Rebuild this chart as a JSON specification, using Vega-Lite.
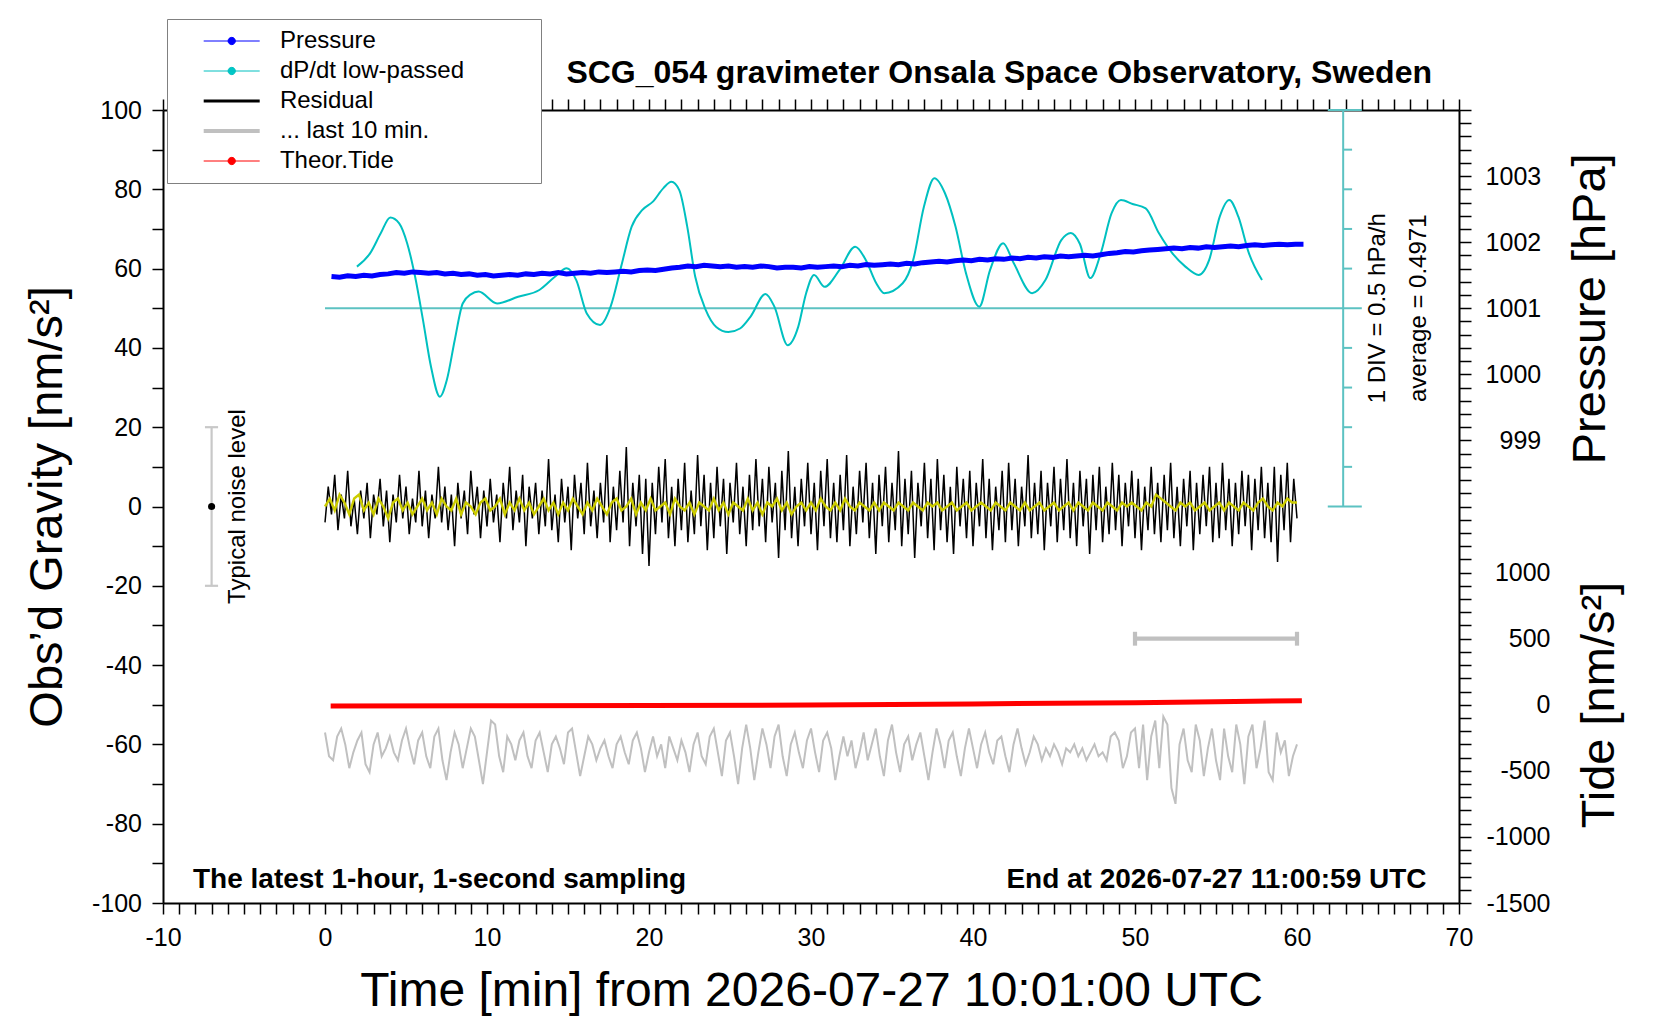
{
  "$schema": "https://vega.github.io/schema/vega-lite/v6.json",
  "width": 1296,
  "height": 793,
  "autosize": {"type": "none"},
  "padding": {"left": 163, "top": 110, "right": 201, "bottom": 117},
  "title": {
    "text": "SCG_054 gravimeter Onsala Space Observatory, Sweden",
    "anchor": "end",
    "frame": "group",
    "dx": -27,
    "offset": -96.7,
    "baseline": "alphabetic",
    "font": "Liberation Sans",
    "fontSize": 32,
    "fontWeight": "bold",
    "color": "#000000"
  },
  "datasets": {
    "residual": [
      {"t":0.0,"g":-4},{"t":0.2,"g":5},{"t":0.4,"g":-2},{"t":0.6,"g":8},{"t":0.8,"g":-6},{"t":1.0,"g":3},{"t":1.2,"g":-3},{"t":1.4,"g":9},{"t":1.6,"g":-5},{"t":1.8,"g":2},
      {"t":2.0,"g":-7},{"t":2.2,"g":4},{"t":2.4,"g":-3},{"t":2.6,"g":6},{"t":2.8,"g":-8},{"t":3.0,"g":3},{"t":3.2,"g":-2},{"t":3.4,"g":7},{"t":3.6,"g":-5},{"t":3.8,"g":4},
      {"t":4.0,"g":-9},{"t":4.2,"g":3},{"t":4.4,"g":-4},{"t":4.6,"g":8},{"t":4.8,"g":-3},{"t":5.0,"g":5},{"t":5.2,"g":-7},{"t":5.4,"g":2},{"t":5.6,"g":-4},{"t":5.8,"g":9},
      {"t":6.0,"g":-5},{"t":6.2,"g":4},{"t":6.4,"g":-8},{"t":6.6,"g":3},{"t":6.8,"g":-3},{"t":7.0,"g":10},{"t":7.2,"g":-4},{"t":7.4,"g":5},{"t":7.6,"g":-6},{"t":7.8,"g":3},
      {"t":8.0,"g":-10},{"t":8.2,"g":6},{"t":8.4,"g":-3},{"t":8.6,"g":4},{"t":8.8,"g":-7},{"t":9.0,"g":9},{"t":9.2,"g":-2},{"t":9.4,"g":5},{"t":9.6,"g":-8},{"t":9.8,"g":4},
      {"t":10.0,"g":-5},{"t":10.2,"g":7},{"t":10.4,"g":-4},{"t":10.6,"g":3},{"t":10.8,"g":-9},{"t":11.0,"g":6},{"t":11.2,"g":-3},{"t":11.4,"g":10},{"t":11.6,"g":-6},{"t":11.8,"g":4},
      {"t":12.0,"g":-4},{"t":12.2,"g":8},{"t":12.4,"g":-10},{"t":12.6,"g":5},{"t":12.8,"g":-3},{"t":13.0,"g":6},{"t":13.2,"g":-7},{"t":13.4,"g":4},{"t":13.6,"g":-5},{"t":13.8,"g":12},
      {"t":14.0,"g":-6},{"t":14.2,"g":3},{"t":14.4,"g":-9},{"t":14.6,"g":7},{"t":14.8,"g":-4},{"t":15.0,"g":5},{"t":15.2,"g":-11},{"t":15.4,"g":8},{"t":15.6,"g":-3},{"t":15.8,"g":6},
      {"t":16.0,"g":-7},{"t":16.2,"g":11},{"t":16.4,"g":-5},{"t":16.6,"g":4},{"t":16.8,"g":-8},{"t":17.0,"g":6},{"t":17.2,"g":-4},{"t":17.4,"g":13},{"t":17.6,"g":-9},{"t":17.8,"g":5},
      {"t":18.0,"g":-6},{"t":18.2,"g":9},{"t":18.4,"g":-4},{"t":18.6,"g":15},{"t":18.8,"g":-10},{"t":19.0,"g":6},{"t":19.2,"g":-5},{"t":19.4,"g":8},{"t":19.6,"g":-12},{"t":19.8,"g":7},
      {"t":20.0,"g":-15},{"t":20.2,"g":6},{"t":20.4,"g":-7},{"t":20.6,"g":10},{"t":20.8,"g":-4},{"t":21.0,"g":12},{"t":21.2,"g":-8},{"t":21.4,"g":5},{"t":21.6,"g":-10},{"t":21.8,"g":7},
      {"t":22.0,"g":-6},{"t":22.2,"g":11},{"t":22.4,"g":-9},{"t":22.6,"g":4},{"t":22.8,"g":-7},{"t":23.0,"g":13},{"t":23.2,"g":-5},{"t":23.4,"g":8},{"t":23.6,"g":-11},{"t":23.8,"g":6},
      {"t":24.0,"g":-8},{"t":24.2,"g":10},{"t":24.4,"g":-5},{"t":24.6,"g":7},{"t":24.8,"g":-12},{"t":25.0,"g":6},{"t":25.2,"g":-4},{"t":25.4,"g":11},{"t":25.6,"g":-7},{"t":25.8,"g":5},
      {"t":26.0,"g":-10},{"t":26.2,"g":8},{"t":26.4,"g":-6},{"t":26.6,"g":12},{"t":26.8,"g":-5},{"t":27.0,"g":7},{"t":27.2,"g":-9},{"t":27.4,"g":10},{"t":27.6,"g":-4},{"t":27.8,"g":6},
      {"t":28.0,"g":-13},{"t":28.2,"g":9},{"t":28.4,"g":-6},{"t":28.6,"g":14},{"t":28.8,"g":-8},{"t":29.0,"g":5},{"t":29.2,"g":-10},{"t":29.4,"g":7},{"t":29.6,"g":-5},{"t":29.8,"g":11},
      {"t":30.0,"g":-7},{"t":30.2,"g":6},{"t":30.4,"g":-11},{"t":30.6,"g":9},{"t":30.8,"g":-5},{"t":31.0,"g":12},{"t":31.2,"g":-8},{"t":31.4,"g":6},{"t":31.6,"g":-9},{"t":31.8,"g":8},
      {"t":32.0,"g":-6},{"t":32.2,"g":13},{"t":32.4,"g":-10},{"t":32.6,"g":5},{"t":32.8,"g":-7},{"t":33.0,"g":9},{"t":33.2,"g":-4},{"t":33.4,"g":11},{"t":33.6,"g":-8},{"t":33.8,"g":6},
      {"t":34.0,"g":-12},{"t":34.2,"g":8},{"t":34.4,"g":-5},{"t":34.6,"g":10},{"t":34.8,"g":-9},{"t":35.0,"g":6},{"t":35.2,"g":-6},{"t":35.4,"g":14},{"t":35.6,"g":-10},{"t":35.8,"g":7},
      {"t":36.0,"g":-7},{"t":36.2,"g":9},{"t":36.4,"g":-13},{"t":36.6,"g":6},{"t":36.8,"g":-5},{"t":37.0,"g":11},{"t":37.2,"g":-8},{"t":37.4,"g":7},{"t":37.6,"g":-11},{"t":37.8,"g":12},
      {"t":38.0,"g":-6},{"t":38.2,"g":8},{"t":38.4,"g":-9},{"t":38.6,"g":5},{"t":38.8,"g":-12},{"t":39.0,"g":10},{"t":39.2,"g":-5},{"t":39.4,"g":7},{"t":39.6,"g":-8},{"t":39.8,"g":9},
      {"t":40.0,"g":-10},{"t":40.2,"g":6},{"t":40.4,"g":-5},{"t":40.6,"g":12},{"t":40.8,"g":-8},{"t":41.0,"g":7},{"t":41.2,"g":-11},{"t":41.4,"g":5},{"t":41.6,"g":-6},{"t":41.8,"g":9},
      {"t":42.0,"g":-9},{"t":42.2,"g":11},{"t":42.4,"g":-6},{"t":42.6,"g":7},{"t":42.8,"g":-10},{"t":43.0,"g":5},{"t":43.2,"g":-5},{"t":43.4,"g":13},{"t":43.6,"g":-8},{"t":43.8,"g":6},
      {"t":44.0,"g":-7},{"t":44.2,"g":9},{"t":44.4,"g":-11},{"t":44.6,"g":6},{"t":44.8,"g":-5},{"t":45.0,"g":10},{"t":45.2,"g":-9},{"t":45.4,"g":7},{"t":45.6,"g":-6},{"t":45.8,"g":12},
      {"t":46.0,"g":-8},{"t":46.2,"g":6},{"t":46.4,"g":-10},{"t":46.6,"g":9},{"t":46.8,"g":-5},{"t":47.0,"g":7},{"t":47.2,"g":-12},{"t":47.4,"g":8},{"t":47.6,"g":-6},{"t":47.8,"g":10},
      {"t":48.0,"g":-9},{"t":48.2,"g":5},{"t":48.4,"g":-7},{"t":48.6,"g":11},{"t":48.8,"g":-6},{"t":49.0,"g":8},{"t":49.2,"g":-10},{"t":49.4,"g":6},{"t":49.6,"g":-5},{"t":49.8,"g":9},
      {"t":50.0,"g":-8},{"t":50.2,"g":7},{"t":50.4,"g":-11},{"t":50.6,"g":5},{"t":50.8,"g":-6},{"t":51.0,"g":10},{"t":51.2,"g":-7},{"t":51.4,"g":6},{"t":51.6,"g":-9},{"t":51.8,"g":8},
      {"t":52.0,"g":-6},{"t":52.2,"g":11},{"t":52.4,"g":-8},{"t":52.6,"g":5},{"t":52.8,"g":-10},{"t":53.0,"g":7},{"t":53.2,"g":-5},{"t":53.4,"g":9},{"t":53.6,"g":-11},{"t":53.8,"g":6},
      {"t":54.0,"g":-7},{"t":54.2,"g":8},{"t":54.4,"g":-5},{"t":54.6,"g":10},{"t":54.8,"g":-9},{"t":55.0,"g":6},{"t":55.2,"g":-8},{"t":55.4,"g":11},{"t":55.6,"g":-6},{"t":55.8,"g":7},
      {"t":56.0,"g":-10},{"t":56.2,"g":6},{"t":56.4,"g":-7},{"t":56.6,"g":9},{"t":56.8,"g":-5},{"t":57.0,"g":8},{"t":57.2,"g":-11},{"t":57.4,"g":7},{"t":57.6,"g":-6},{"t":57.8,"g":10},
      {"t":58.0,"g":-8},{"t":58.2,"g":6},{"t":58.4,"g":-9},{"t":58.6,"g":10},{"t":58.8,"g":-14},{"t":59.0,"g":8},{"t":59.2,"g":-6},{"t":59.4,"g":11},{"t":59.6,"g":-9},{"t":59.8,"g":7},
      {"t":60.0,"g":-3}
    ],
    "yellow": [
      {"t":0,"g":0},{"t":0.3,"g":2},{"t":0.6,"g":-1},{"t":0.9,"g":3},{"t":1.2,"g":1},{"t":1.5,"g":-2},{"t":1.8,"g":2},{"t":2.1,"g":3},{"t":2.4,"g":-1},{"t":2.7,"g":1},
      {"t":3,"g":-2},{"t":3.3,"g":2},{"t":3.6,"g":0},{"t":3.9,"g":-3},{"t":4.2,"g":1},{"t":4.5,"g":2},{"t":4.8,"g":-1},{"t":5.1,"g":1},{"t":5.4,"g":-2},{"t":5.7,"g":0},
      {"t":6,"g":2},{"t":6.3,"g":-1},{"t":6.6,"g":1},{"t":6.9,"g":-2},{"t":7.2,"g":2},{"t":7.5,"g":0},{"t":7.8,"g":-1},{"t":8.1,"g":2},{"t":8.4,"g":-2},{"t":8.7,"g":1},
      {"t":9,"g":0},{"t":9.3,"g":-2},{"t":9.6,"g":1},{"t":9.9,"g":2},{"t":10.2,"g":-1},{"t":10.5,"g":0},{"t":10.8,"g":2},{"t":11.1,"g":-2},{"t":11.4,"g":1},{"t":11.7,"g":-1},
      {"t":12,"g":2},{"t":12.3,"g":-1},{"t":12.6,"g":1},{"t":12.9,"g":-2},{"t":13.2,"g":0},{"t":13.5,"g":2},{"t":13.8,"g":-1},{"t":14.1,"g":1},{"t":14.4,"g":-2},{"t":14.7,"g":1},
      {"t":15,"g":-1},{"t":15.3,"g":2},{"t":15.6,"g":0},{"t":15.9,"g":-2},{"t":16.2,"g":1},{"t":16.5,"g":-1},{"t":16.8,"g":2},{"t":17.1,"g":0},{"t":17.4,"g":-2},{"t":17.7,"g":1},
      {"t":18,"g":2},{"t":18.3,"g":-1},{"t":18.6,"g":0},{"t":18.9,"g":2},{"t":19.2,"g":-2},{"t":19.5,"g":1},{"t":19.8,"g":-1},{"t":20.1,"g":2},{"t":20.4,"g":-1},{"t":20.7,"g":0},
      {"t":21,"g":1},{"t":21.3,"g":-2},{"t":21.6,"g":2},{"t":21.9,"g":0},{"t":22.2,"g":-1},{"t":22.5,"g":1},{"t":22.8,"g":-2},{"t":23.1,"g":1},{"t":23.4,"g":0},{"t":23.7,"g":-1},
      {"t":24,"g":2},{"t":24.3,"g":-1},{"t":24.6,"g":1},{"t":24.9,"g":-2},{"t":25.2,"g":1},{"t":25.5,"g":0},{"t":25.8,"g":-1},{"t":26.1,"g":2},{"t":26.4,"g":-1},{"t":26.7,"g":1},
      {"t":27,"g":-2},{"t":27.3,"g":1},{"t":27.6,"g":0},{"t":27.9,"g":2},{"t":28.2,"g":-1},{"t":28.5,"g":1},{"t":28.8,"g":-2},{"t":29.1,"g":0},{"t":29.4,"g":1},{"t":29.7,"g":-1},
      {"t":30,"g":1},{"t":30.3,"g":-1},{"t":30.6,"g":2},{"t":30.9,"g":0},{"t":31.2,"g":-1},{"t":31.5,"g":1},{"t":31.8,"g":-1},{"t":32.1,"g":2},{"t":32.4,"g":0},{"t":32.7,"g":-1},
      {"t":33,"g":1},{"t":33.3,"g":0},{"t":33.6,"g":-1},{"t":33.9,"g":1},{"t":34.2,"g":-1},{"t":34.5,"g":1},{"t":34.8,"g":0},{"t":35.1,"g":-1},{"t":35.4,"g":1},{"t":35.7,"g":0},
      {"t":36,"g":-1},{"t":36.3,"g":1},{"t":36.6,"g":0},{"t":36.9,"g":-1},{"t":37.2,"g":1},{"t":37.5,"g":0},{"t":37.8,"g":1},{"t":38.1,"g":-1},{"t":38.4,"g":0},{"t":38.7,"g":1},
      {"t":39,"g":-1},{"t":39.3,"g":0},{"t":39.6,"g":1},{"t":39.9,"g":-1},{"t":40.2,"g":0},{"t":40.5,"g":1},{"t":40.8,"g":0},{"t":41.1,"g":-1},{"t":41.4,"g":1},{"t":41.7,"g":0},
      {"t":42,"g":-1},{"t":42.3,"g":1},{"t":42.6,"g":0},{"t":42.9,"g":-1},{"t":43.2,"g":1},{"t":43.5,"g":-1},{"t":43.8,"g":0},{"t":44.1,"g":1},{"t":44.4,"g":-1},{"t":44.7,"g":0},
      {"t":45,"g":1},{"t":45.3,"g":-1},{"t":45.6,"g":0},{"t":45.9,"g":1},{"t":46.2,"g":-1},{"t":46.5,"g":1},{"t":46.8,"g":0},{"t":47.1,"g":-1},{"t":47.4,"g":1},{"t":47.7,"g":0},
      {"t":48,"g":-1},{"t":48.3,"g":1},{"t":48.6,"g":0},{"t":48.9,"g":-1},{"t":49.2,"g":1},{"t":49.5,"g":0},{"t":49.8,"g":1},{"t":50.1,"g":0},{"t":50.4,"g":-1},{"t":50.7,"g":1},
      {"t":51,"g":0},{"t":51.3,"g":3},{"t":51.6,"g":2},{"t":51.9,"g":1},{"t":52.2,"g":0},{"t":52.5,"g":-1},{"t":52.8,"g":1},{"t":53.1,"g":0},{"t":53.4,"g":1},{"t":53.7,"g":-1},
      {"t":54,"g":0},{"t":54.3,"g":1},{"t":54.6,"g":-1},{"t":54.9,"g":0},{"t":55.2,"g":1},{"t":55.5,"g":-1},{"t":55.8,"g":1},{"t":56.1,"g":0},{"t":56.4,"g":-1},{"t":56.7,"g":1},
      {"t":57,"g":0},{"t":57.3,"g":-1},{"t":57.6,"g":1},{"t":57.9,"g":2},{"t":58.2,"g":0},{"t":58.5,"g":-1},{"t":58.8,"g":1},{"t":59.1,"g":0},{"t":59.4,"g":2},{"t":59.7,"g":1},
      {"t":60,"g":1}
    ],
    "grey": [
      {"t":0,"g":-57},{"t":0.25,"g":-63},{"t":0.5,"g":-64},{"t":0.75,"g":-58},{"t":1,"g":-56},{"t":1.25,"g":-60},{"t":1.5,"g":-66},{"t":1.75,"g":-62},
      {"t":2,"g":-59},{"t":2.25,"g":-57},{"t":2.5,"g":-65},{"t":2.75,"g":-67},{"t":3,"g":-60},{"t":3.25,"g":-57},{"t":3.5,"g":-63},{"t":3.75,"g":-61},
      {"t":4,"g":-58},{"t":4.25,"g":-62},{"t":4.5,"g":-64},{"t":4.75,"g":-59},{"t":5,"g":-56},{"t":5.25,"g":-61},{"t":5.5,"g":-65},{"t":5.75,"g":-59},
      {"t":6,"g":-57},{"t":6.25,"g":-63},{"t":6.5,"g":-66},{"t":6.75,"g":-58},{"t":7,"g":-56},{"t":7.25,"g":-64},{"t":7.5,"g":-69},{"t":7.75,"g":-62},
      {"t":8,"g":-57},{"t":8.25,"g":-60},{"t":8.5,"g":-66},{"t":8.75,"g":-61},{"t":9,"g":-56},{"t":9.25,"g":-58},{"t":9.5,"g":-64},{"t":9.75,"g":-70},
      {"t":10,"g":-62},{"t":10.25,"g":-54},{"t":10.5,"g":-55},{"t":10.75,"g":-63},{"t":11,"g":-67},{"t":11.25,"g":-58},{"t":11.5,"g":-60},{"t":11.75,"g":-64},
      {"t":12,"g":-59},{"t":12.25,"g":-57},{"t":12.5,"g":-63},{"t":12.75,"g":-66},{"t":13,"g":-59},{"t":13.25,"g":-57},{"t":13.5,"g":-62},{"t":13.75,"g":-67},
      {"t":14,"g":-60},{"t":14.25,"g":-58},{"t":14.5,"g":-61},{"t":14.75,"g":-65},{"t":15,"g":-57},{"t":15.25,"g":-56},{"t":15.5,"g":-62},{"t":15.75,"g":-68},
      {"t":16,"g":-63},{"t":16.25,"g":-58},{"t":16.5,"g":-60},{"t":16.75,"g":-64},{"t":17,"g":-61},{"t":17.25,"g":-59},{"t":17.5,"g":-63},{"t":17.75,"g":-66},
      {"t":18,"g":-60},{"t":18.25,"g":-58},{"t":18.5,"g":-62},{"t":18.75,"g":-65},{"t":19,"g":-59},{"t":19.25,"g":-57},{"t":19.5,"g":-61},{"t":19.75,"g":-67},
      {"t":20,"g":-62},{"t":20.25,"g":-58},{"t":20.5,"g":-63},{"t":20.75,"g":-60},{"t":21,"g":-66},{"t":21.25,"g":-58},{"t":21.5,"g":-61},{"t":21.75,"g":-64},
      {"t":22,"g":-59},{"t":22.25,"g":-62},{"t":22.5,"g":-67},{"t":22.75,"g":-60},{"t":23,"g":-57},{"t":23.25,"g":-63},{"t":23.5,"g":-65},{"t":23.75,"g":-58},
      {"t":24,"g":-56},{"t":24.25,"g":-62},{"t":24.5,"g":-68},{"t":24.75,"g":-59},{"t":25,"g":-57},{"t":25.25,"g":-63},{"t":25.5,"g":-70},{"t":25.75,"g":-61},
      {"t":26,"g":-55},{"t":26.25,"g":-61},{"t":26.5,"g":-69},{"t":26.75,"g":-62},{"t":27,"g":-56},{"t":27.25,"g":-60},{"t":27.5,"g":-66},{"t":27.75,"g":-58},
      {"t":28,"g":-55},{"t":28.25,"g":-63},{"t":28.5,"g":-68},{"t":28.75,"g":-60},{"t":29,"g":-57},{"t":29.25,"g":-62},{"t":29.5,"g":-66},{"t":29.75,"g":-59},
      {"t":30,"g":-56},{"t":30.25,"g":-62},{"t":30.5,"g":-67},{"t":30.75,"g":-59},{"t":31,"g":-57},{"t":31.25,"g":-61},{"t":31.5,"g":-69},{"t":31.75,"g":-63},
      {"t":32,"g":-58},{"t":32.25,"g":-63},{"t":32.5,"g":-59},{"t":32.75,"g":-66},{"t":33,"g":-62},{"t":33.25,"g":-57},{"t":33.5,"g":-64},{"t":33.75,"g":-60},
      {"t":34,"g":-56},{"t":34.25,"g":-63},{"t":34.5,"g":-68},{"t":34.75,"g":-59},{"t":35,"g":-55},{"t":35.25,"g":-62},{"t":35.5,"g":-67},{"t":35.75,"g":-60},
      {"t":36,"g":-58},{"t":36.25,"g":-64},{"t":36.5,"g":-60},{"t":36.75,"g":-57},{"t":37,"g":-63},{"t":37.25,"g":-69},{"t":37.5,"g":-62},{"t":37.75,"g":-56},
      {"t":38,"g":-60},{"t":38.25,"g":-66},{"t":38.5,"g":-59},{"t":38.75,"g":-57},{"t":39,"g":-63},{"t":39.25,"g":-68},{"t":39.5,"g":-61},{"t":39.75,"g":-56},
      {"t":40,"g":-61},{"t":40.25,"g":-66},{"t":40.5,"g":-60},{"t":40.75,"g":-57},{"t":41,"g":-62},{"t":41.25,"g":-65},{"t":41.5,"g":-59},{"t":41.75,"g":-58},
      {"t":42,"g":-63},{"t":42.25,"g":-67},{"t":42.5,"g":-60},{"t":42.75,"g":-56},{"t":43,"g":-61},{"t":43.25,"g":-65},{"t":43.5,"g":-62},{"t":43.75,"g":-58},
      {"t":44,"g":-60},{"t":44.25,"g":-64},{"t":44.5,"g":-61},{"t":44.75,"g":-63},{"t":45,"g":-60},{"t":45.25,"g":-62},{"t":45.5,"g":-65},{"t":45.75,"g":-61},
      {"t":46,"g":-62},{"t":46.25,"g":-60},{"t":46.5,"g":-63},{"t":46.75,"g":-61},{"t":47,"g":-64},{"t":47.25,"g":-62},{"t":47.5,"g":-60},{"t":47.75,"g":-63},
      {"t":48,"g":-62},{"t":48.25,"g":-64},{"t":48.5,"g":-58},{"t":48.75,"g":-57},{"t":49,"g":-59},{"t":49.25,"g":-66},{"t":49.5,"g":-63},{"t":49.75,"g":-57},
      {"t":50,"g":-56},{"t":50.25,"g":-66},{"t":50.5,"g":-55},{"t":50.75,"g":-69},{"t":51,"g":-58},{"t":51.25,"g":-54},{"t":51.5,"g":-66},{"t":51.75,"g":-53},
      {"t":52,"g":-55},{"t":52.25,"g":-71},{"t":52.5,"g":-75},{"t":52.75,"g":-60},{"t":53,"g":-56},{"t":53.25,"g":-64},{"t":53.5,"g":-67},{"t":53.75,"g":-55},
      {"t":54,"g":-59},{"t":54.25,"g":-68},{"t":54.5,"g":-61},{"t":54.75,"g":-56},{"t":55,"g":-64},{"t":55.25,"g":-69},{"t":55.5,"g":-56},{"t":55.75,"g":-63},
      {"t":56,"g":-67},{"t":56.25,"g":-55},{"t":56.5,"g":-60},{"t":56.75,"g":-70},{"t":57,"g":-58},{"t":57.25,"g":-55},{"t":57.5,"g":-66},{"t":57.75,"g":-61},
      {"t":58,"g":-54},{"t":58.25,"g":-67},{"t":58.5,"g":-69},{"t":58.75,"g":-57},{"t":59,"g":-62},{"t":59.25,"g":-59},{"t":59.5,"g":-68},{"t":59.75,"g":-63},
      {"t":60,"g":-60}
    ],
    "pressure": [
      {"t":0.4,"p":1001.48},{"t":0.9,"p":1001.47},{"t":1.4,"p":1001.49},{"t":1.9,"p":1001.48},{"t":2.4,"p":1001.50},{"t":2.9,"p":1001.49},{"t":3.4,"p":1001.51},{"t":3.9,"p":1001.52},{"t":4.4,"p":1001.54},{"t":4.9,"p":1001.53},
      {"t":5.4,"p":1001.55},{"t":5.9,"p":1001.54},{"t":6.4,"p":1001.53},{"t":6.9,"p":1001.54},{"t":7.4,"p":1001.52},{"t":7.9,"p":1001.53},{"t":8.4,"p":1001.51},{"t":8.9,"p":1001.52},{"t":9.4,"p":1001.50},{"t":9.9,"p":1001.51},
      {"t":10.4,"p":1001.49},{"t":10.9,"p":1001.50},{"t":11.4,"p":1001.51},{"t":11.9,"p":1001.50},{"t":12.4,"p":1001.52},{"t":12.9,"p":1001.51},{"t":13.4,"p":1001.53},{"t":13.9,"p":1001.52},{"t":14.4,"p":1001.54},{"t":14.9,"p":1001.52},
      {"t":15.4,"p":1001.53},{"t":15.9,"p":1001.54},{"t":16.4,"p":1001.53},{"t":16.9,"p":1001.55},{"t":17.4,"p":1001.54},{"t":17.9,"p":1001.55},{"t":18.4,"p":1001.56},{"t":18.9,"p":1001.55},{"t":19.4,"p":1001.57},{"t":19.9,"p":1001.58},
      {"t":20.4,"p":1001.57},{"t":20.9,"p":1001.59},{"t":21.4,"p":1001.61},{"t":21.9,"p":1001.62},{"t":22.4,"p":1001.64},{"t":22.9,"p":1001.63},{"t":23.4,"p":1001.65},{"t":23.9,"p":1001.64},{"t":24.4,"p":1001.63},{"t":24.9,"p":1001.64},
      {"t":25.4,"p":1001.62},{"t":25.9,"p":1001.63},{"t":26.4,"p":1001.62},{"t":26.9,"p":1001.64},{"t":27.4,"p":1001.63},{"t":27.9,"p":1001.61},{"t":28.4,"p":1001.62},{"t":28.9,"p":1001.62},{"t":29.4,"p":1001.61},{"t":29.9,"p":1001.63},
      {"t":30.4,"p":1001.62},{"t":30.9,"p":1001.63},{"t":31.4,"p":1001.64},{"t":31.9,"p":1001.63},{"t":32.4,"p":1001.65},{"t":32.9,"p":1001.64},{"t":33.4,"p":1001.66},{"t":33.9,"p":1001.65},{"t":34.4,"p":1001.66},{"t":34.9,"p":1001.67},
      {"t":35.4,"p":1001.66},{"t":35.9,"p":1001.68},{"t":36.4,"p":1001.67},{"t":36.9,"p":1001.69},{"t":37.4,"p":1001.70},{"t":37.9,"p":1001.71},{"t":38.4,"p":1001.70},{"t":38.9,"p":1001.72},{"t":39.4,"p":1001.73},{"t":39.9,"p":1001.72},
      {"t":40.4,"p":1001.74},{"t":40.9,"p":1001.73},{"t":41.4,"p":1001.75},{"t":41.9,"p":1001.74},{"t":42.4,"p":1001.76},{"t":42.9,"p":1001.75},{"t":43.4,"p":1001.77},{"t":43.9,"p":1001.76},{"t":44.4,"p":1001.78},{"t":44.9,"p":1001.77},
      {"t":45.4,"p":1001.79},{"t":45.9,"p":1001.78},{"t":46.4,"p":1001.79},{"t":46.9,"p":1001.80},{"t":47.4,"p":1001.79},{"t":47.9,"p":1001.81},{"t":48.4,"p":1001.83},{"t":48.9,"p":1001.84},{"t":49.4,"p":1001.86},{"t":49.9,"p":1001.85},
      {"t":50.4,"p":1001.87},{"t":50.9,"p":1001.88},{"t":51.4,"p":1001.89},{"t":51.9,"p":1001.90},{"t":52.4,"p":1001.91},{"t":52.9,"p":1001.90},{"t":53.4,"p":1001.92},{"t":53.9,"p":1001.91},{"t":54.4,"p":1001.93},{"t":54.9,"p":1001.92},
      {"t":55.4,"p":1001.93},{"t":55.9,"p":1001.94},{"t":56.4,"p":1001.93},{"t":56.9,"p":1001.95},{"t":57.4,"p":1001.96},{"t":57.9,"p":1001.95},{"t":58.4,"p":1001.96},{"t":58.9,"p":1001.97},{"t":59.4,"p":1001.96},{"t":59.9,"p":1001.97},
      {"t":60.4,"p":1001.97}
    ],
    "dpdt": [
      {"t":1.97,"v":1.022},{"t":2.79,"v":1.192},{"t":3.44,"v":1.442},{"t":4.03,"v":1.642},{"t":4.58,"v":1.567},{"t":5.07,"v":1.317},{"t":5.56,"v":0.897},{"t":6.05,"v":0.347},{"t":6.54,"v":-0.238},{"t":7.09,"v":-0.618},
      {"t":7.52,"v":-0.408},{"t":8.01,"v":0.097},{"t":8.5,"v":0.557},{"t":9.0,"v":0.672},{"t":9.48,"v":0.707},{"t":10.62,"v":0.557},{"t":11.92,"v":0.642},{"t":13.23,"v":0.727},{"t":14.21,"v":0.897},{"t":14.92,"v":1.002},
      {"t":15.51,"v":0.852},{"t":16.16,"v":0.432},{"t":16.98,"v":0.287},{"t":17.63,"v":0.517},{"t":18.28,"v":1.022},{"t":18.93,"v":1.527},{"t":19.59,"v":1.737},{"t":20.24,"v":1.842},{"t":20.89,"v":2.012},{"t":21.38,"v":2.092},
      {"t":21.87,"v":1.987},{"t":22.36,"v":1.527},{"t":22.85,"v":0.897},{"t":23.5,"v":0.477},{"t":24.15,"v":0.262},{"t":24.9,"v":0.197},{"t":25.62,"v":0.242},{"t":26.27,"v":0.392},{"t":27.19,"v":0.677},{"t":27.74,"v":0.517},
      {"t":28.56,"v":0.032},{"t":29.21,"v":0.262},{"t":29.7,"v":0.687},{"t":30.19,"v":0.917},{"t":30.84,"v":0.767},{"t":31.75,"v":0.977},{"t":32.73,"v":1.272},{"t":33.38,"v":1.107},{"t":34.03,"v":0.812},{"t":34.52,"v":0.687},
      {"t":35.66,"v":0.812},{"t":36.31,"v":1.107},{"t":36.97,"v":1.777},{"t":37.62,"v":2.137},{"t":38.27,"v":1.947},{"t":38.92,"v":1.527},{"t":39.57,"v":0.937},{"t":40.39,"v":0.517},{"t":41.05,"v":0.977},{"t":41.86,"v":1.317},
      {"t":42.51,"v":1.067},{"t":43.65,"v":0.687},{"t":44.47,"v":0.852},{"t":45.45,"v":1.357},{"t":46.04,"v":1.447},{"t":46.6,"v":1.307},{"t":47.24,"v":0.877},{"t":47.89,"v":1.192},{"t":48.55,"v":1.692},{"t":49.13,"v":1.862},
      {"t":49.85,"v":1.812},{"t":50.66,"v":1.757},{"t":51.48,"v":1.442},{"t":52.3,"v":1.192},{"t":53.11,"v":1.022},{"t":53.93,"v":0.917},{"t":54.58,"v":1.107},{"t":55.23,"v":1.652},{"t":55.82,"v":1.862},{"t":56.38,"v":1.652},
      {"t":57.03,"v":1.192},{"t":57.84,"v":0.852}
    ],
    "tide": [
      {"t":0.35,"n":-10},{"t":10,"n":-8},{"t":20,"n":-5},{"t":30,"n":-2},{"t":40,"n":6},{"t":45,"n":11},{"t":50,"n":16},{"t":55,"n":23},{"t":60.3,"n":31}
    ],
    "cyanRules": [
      {"t":0,"t2":64,"g":50,"g2":50},
      {"t":62.85,"t2":62.85,"g":0,"g2":100},
      {"t":61.9,"t2":64,"g":100,"g2":100},
      {"t":61.9,"t2":64,"g":0,"g2":0},
      {"t":62.85,"t2":63.4,"g":10,"g2":10},
      {"t":62.85,"t2":63.4,"g":20,"g2":20},
      {"t":62.85,"t2":63.4,"g":30,"g2":30},
      {"t":62.85,"t2":63.4,"g":40,"g2":40},
      {"t":62.85,"t2":63.4,"g":60,"g2":60},
      {"t":62.85,"t2":63.4,"g":70,"g2":70},
      {"t":62.85,"t2":63.4,"g":80,"g2":80},
      {"t":62.85,"t2":63.4,"g":90,"g2":90}
    ],
    "noiseRules": [
      {"t":-7,"t2":-7,"g":-20,"g2":20},
      {"t":-7.41,"t2":-6.6,"g":20,"g2":20},
      {"t":-7.41,"t2":-6.6,"g":-20,"g2":-20}
    ],
    "bracketRules": [
      {"t":50,"t2":60,"g":-33.3,"g2":-33.3},
      {"t":50,"t2":50,"g":-31.6,"g2":-35.1},
      {"t":60,"t2":60,"g":-31.6,"g2":-35.1}
    ],
    "sideNotes": [
      {"t":-4.95,"g":0,"label":"Typical noise level"},
      {"t":65.44,"g":50,"label":"1 DIV = 0.5 hPa/h"},
      {"t":67.96,"g":50,"label":"average = 0.4971"}
    ]
  },
  "layer": [
    {
      "encoding": {
        "x": {
          "field": "t", "type": "quantitative",
          "scale": {"domain": [-10, 70], "nice": false, "zero": false},
          "axis": {
            "orient": "bottom",
            "values": [-10,-9,-8,-7,-6,-5,-4,-3,-2,-1,0,1,2,3,4,5,6,7,8,9,10,11,12,13,14,15,16,17,18,19,20,21,22,23,24,25,26,27,28,29,30,31,32,33,34,35,36,37,38,39,40,41,42,43,44,45,46,47,48,49,50,51,52,53,54,55,56,57,58,59,60,61,62,63,64,65,66,67,68,69,70],
            "labelExpr": "datum.value % 10 === 0 ? '' + datum.value : ''",
            "tickSize": 11,
            "labelPadding": 11,
            "labelAngle": 0,
            "title": "Time [min] from 2026-07-27 10:01:00 UTC",
            "titleFontSize": 48,
            "titleY": 102,
            "titleBaseline": "alphabetic",
            "encode": {"ticks": {"update": {"y2": {"signal": "datum.value % 10 === 0 ? 11 : 5.5"}}}}
          }
        },
        "y": {
          "field": "g", "type": "quantitative",
          "scale": {"domain": [-100, 100], "nice": false, "zero": false},
          "axis": {
            "orient": "left",
            "values": [-100,-90,-80,-70,-60,-50,-40,-30,-20,-10,0,10,20,30,40,50,60,70,80,90,100],
            "labelExpr": "datum.value % 20 === 0 ? '' + datum.value : ''",
            "tickSize": 11,
            "labelPadding": 10.5,
            "title": "Obs’d Gravity [nm/s²]",
            "titleX": -102,
            "titleY": 396.5,
            "titleAngle": 270,
            "titleAlign": "center",
            "titleBaseline": "alphabetic",
            "encode": {"ticks": {"update": {"x2": {"signal": "datum.value % 20 === 0 ? -11 : -5.5"}}}}
          }
        }
      },
      "layer": [
        {
          "data": {"name": "cyanRules"},
          "mark": {"type": "rule", "color": "#5cc2c2", "strokeWidth": 2},
          "encoding": {"x2": {"field": "t2"}, "y2": {"field": "g2"}}
        },
        {
          "data": {"name": "residual"},
          "mark": {"type": "line", "strokeWidth": 1.5},
          "encoding": {
            "color": {
              "datum": "Residual",
              "type": "nominal",
              "scale": {
                "domain": ["Pressure", "dP/dt low-passed", "Residual", "... last 10 min.", "Theor.Tide"],
                "range": ["#0000ff", "#00c0c0", "#000000", "#c0c0c0", "#ff0000"]
              },
              "legend": {
                "orient": "none",
                "legendX": 4,
                "legendY": -91,
                "title": null,
                "fillColor": "#ffffff",
                "strokeColor": "#808080",
                "padding": 10,
                "rowPadding": 6.0,
                "symbolSize": 3136,
                "symbolOffset": 42.7,
                "labelOffset": 36.2,
                "labelLimit": 600,
                "labelFont": "Liberation Sans",
                "labelFontSize": 24,
                "labelColor": "#000000",
                "labelExpr": "datum.label + '\u00a0\u00a0\u00a0\u00a0\u00a0\u00a0\u00a0\u00a0\u00a0\u00a0\u200b'",
                "zindex": 10,
                "encode": {
                  "symbols": {
                    "update": {
                      "shape": {"signal": "datum.value === 'Residual' || datum.value === '... last 10 min.' ? 'stroke' : 'M-1,0L1,0M0.13,0A0.13,0.13,0,1,1,-0.13,0A0.13,0.13,0,1,1,0.13,0Z'"},
                      "strokeWidth": {"signal": "datum.value === 'Residual' ? 3 : datum.value === '... last 10 min.' ? 4 : 1"},
                      "fill": {"signal": "datum.value === 'Pressure' ? '#0000ff' : datum.value === 'dP/dt low-passed' ? '#00c8c8' : datum.value === 'Theor.Tide' ? '#ff0000' : 'transparent'"},
                      "stroke": {"signal": "datum.value === 'Pressure' ? '#5050ff' : datum.value === 'dP/dt low-passed' ? '#50d0d0' : datum.value === 'Residual' ? '#000000' : datum.value === 'Theor.Tide' ? '#ff5050' : '#c0c0c0'"},
                      "opacity": {"value": 1}
                    }
                  }
                }
              }
            }
          }
        },
        {
          "data": {"name": "yellow"},
          "mark": {"type": "line", "color": "#cccc00", "strokeWidth": 2.4}
        },
        {
          "data": {"name": "grey"},
          "mark": {"type": "line", "strokeWidth": 2},
          "encoding": {"color": {"datum": "... last 10 min.", "type": "nominal"}}
        },
        {
          "data": {"name": "noiseRules"},
          "mark": {"type": "rule", "color": "#c8c8c8", "strokeWidth": 2.2},
          "encoding": {"x2": {"field": "t2"}, "y2": {"field": "g2"}}
        },
        {
          "data": {"values": [{"t": -7, "g": 0}]},
          "mark": {"type": "point", "filled": true, "color": "#000000", "size": 50, "opacity": 1}
        },
        {
          "data": {"name": "bracketRules"},
          "mark": {"type": "rule", "color": "#c0c0c0", "strokeWidth": 4.2},
          "encoding": {"x2": {"field": "t2"}, "y2": {"field": "g2"}}
        },
        {
          "data": {"name": "sideNotes"},
          "mark": {"type": "text", "angle": 270, "align": "center", "baseline": "alphabetic", "font": "Liberation Sans", "fontSize": 24, "color": "#000000"},
          "encoding": {"text": {"field": "label"}}
        },
        {
          "data": {"values": [{"t": -8.15, "g": -96.3, "label": "The latest 1-hour, 1-second sampling"}]},
          "mark": {"type": "text", "align": "left", "baseline": "alphabetic", "font": "Liberation Sans", "fontSize": 28, "fontWeight": "bold", "color": "#000000"},
          "encoding": {"text": {"field": "label"}}
        },
        {
          "data": {"values": [{"t": 68.0, "g": -96.3, "label": "End at 2026-07-27 11:00:59 UTC"}]},
          "mark": {"type": "text", "align": "right", "baseline": "alphabetic", "font": "Liberation Sans", "fontSize": 28, "fontWeight": "bold", "color": "#000000"},
          "encoding": {"text": {"field": "label"}}
        }
      ]
    },
    {
      "data": {"name": "dpdt"},
      "mark": {"type": "line", "interpolate": "monotone", "strokeWidth": 2},
      "encoding": {
        "x": {"field": "t", "type": "quantitative", "scale": {"domain": [-10, 70], "nice": false, "zero": false}, "axis": null},
        "y": {"field": "v", "type": "quantitative", "scale": {"domain": [-7.0029, 2.9971], "nice": false, "zero": false}, "axis": null},
        "color": {"datum": "dP/dt low-passed", "type": "nominal"}
      }
    },
    {
      "data": {"name": "pressure"},
      "mark": {"type": "line", "strokeWidth": 5},
      "encoding": {
        "x": {
          "field": "t", "type": "quantitative",
          "scale": {"domain": [-10, 70], "nice": false, "zero": false},
          "axis": {
            "orient": "top",
            "values": [-10,-9,-8,-7,-6,-5,-4,-3,-2,-1,0,1,2,3,4,5,6,7,8,9,10,11,12,13,14,15,16,17,18,19,20,21,22,23,24,25,26,27,28,29,30,31,32,33,34,35,36,37,38,39,40,41,42,43,44,45,46,47,48,49,50,51,52,53,54,55,56,57,58,59,60,61,62,63,64,65,66,67,68,69,70],
            "labels": false,
            "tickSize": 11,
            "title": null,
            "encode": {"ticks": {"update": {"y2": {"signal": "datum.value % 10 === 0 ? -11 : -5.5"}}}}
          }
        },
        "y": {
          "field": "p", "type": "quantitative",
          "scale": {"domain": [992, 1004], "nice": false, "zero": false},
          "axis": {
            "orient": "right",
            "values": [992,992.2,992.4,992.6,992.8,993,993.2,993.4,993.6,993.8,994,994.2,994.4,994.6,994.8,995,995.2,995.4,995.6,995.8,996,996.2,996.4,996.6,996.8,997,997.2,997.4,997.6,997.8,998,998.2,998.4,998.6,998.8,999,999.2,999.4,999.6,999.8,1000,1000.2,1000.4,1000.6,1000.8,1001,1001.2,1001.4,1001.6,1001.8,1002,1002.2,1002.4,1002.6,1002.8,1003,1003.2,1003.4,1003.6,1003.8,1004],
            "labelExpr": "datum.value > 998.9 && datum.value < 1003.1 && abs(datum.value - round(datum.value)) < 0.01 ? '' + round(datum.value) : ''",
            "labelAlign": "right",
            "tickSize": 12,
            "labelPadding": 69.7,
            "title": "Pressure [hPa]",
            "titleX": 145.3,
            "titleY": 198.3,
            "titleAngle": 270,
            "titleAlign": "center",
            "titleBaseline": "alphabetic",
            "encode": {"ticks": {"update": {"x2": {"signal": "abs(datum.value - round(datum.value)) < 0.01 ? 12 : 5.7"}}}}
          }
        },
        "color": {"datum": "Pressure", "type": "nominal"}
      }
    },
    {
      "data": {"name": "tide"},
      "mark": {"type": "line", "strokeWidth": 5},
      "encoding": {
        "x": {"field": "t", "type": "quantitative", "scale": {"domain": [-10, 70], "nice": false, "zero": false}, "axis": null},
        "y": {
          "field": "n", "type": "quantitative",
          "scale": {"domain": [-1500, 4500], "nice": false, "zero": false},
          "axis": {
            "orient": "right",
            "values": [-1500, -1000, -500, 0, 500, 1000],
            "labelExpr": "'' + datum.value",
            "labelAlign": "right",
            "tickSize": 12,
            "tickOpacity": 0,
            "domain": false,
            "labelPadding": 79,
            "title": "Tide [nm/s²]",
            "titleX": 154.3,
            "titleY": 594.5,
            "titleAngle": 270,
            "titleAlign": "center",
            "titleBaseline": "alphabetic"
          }
        },
        "color": {"datum": "Theor.Tide", "type": "nominal"}
      }
    }
  ],
  "resolve": {"scale": {"x": "independent", "y": "independent"}},
  "config": {
    "font": "Liberation Sans",
    "view": {"stroke": null},
    "axis": {
      "labelFont": "Liberation Sans",
      "labelFontSize": 25,
      "labelColor": "#000000",
      "labelOverlap": false,
      "labelFlush": false,
      "titleFont": "Liberation Sans",
      "titleFontSize": 47,
      "titleFontWeight": "normal",
      "titleColor": "#000000",
      "domainColor": "#000000",
      "domainWidth": 2,
      "tickColor": "#000000",
      "tickWidth": 1.5,
      "grid": false,
      "zindex": 1
    }
  }
}
